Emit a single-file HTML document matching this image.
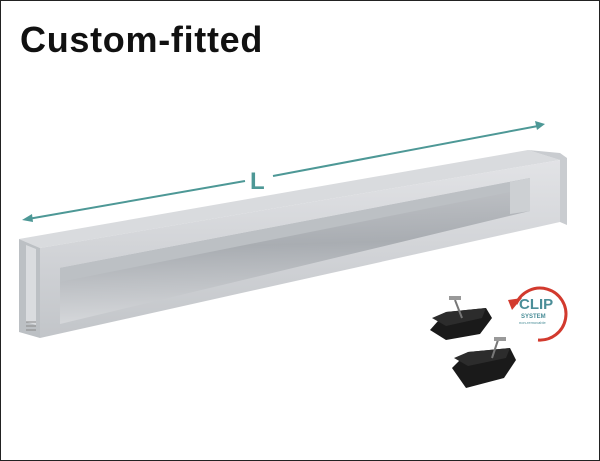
<!DOCTYPE html>
<html><head><style>
html,body{margin:0;padding:0;background:#fff;}
.w{position:relative;width:598px;height:459px;border:1px solid #222;overflow:hidden;background:#fff;}
h1{position:absolute;left:19px;top:18px;margin:0;font:bold 36px "Liberation Sans",sans-serif;color:#111;letter-spacing:0.7px;}
svg{position:absolute;left:-1px;top:-1px;}
</style></head><body><div class="w">
<h1>Custom-fitted</h1>
<svg width="600" height="461" viewBox="0 0 600 461">
<defs>
<linearGradient id="fr" x1="0" y1="0" x2="0" y2="1"><stop offset="0" stop-color="#e2e3e6"/><stop offset="1" stop-color="#c2c5c9"/></linearGradient>
<linearGradient id="in" x1="0" y1="0" x2="0.1" y2="1"><stop offset="0" stop-color="#c6c8cc"/><stop offset="0.5" stop-color="#a9adb2"/><stop offset="1" stop-color="#d6d8db"/></linearGradient>
</defs>
<g stroke="#4d9896" stroke-width="2" fill="#4d9896">
<line x1="28" y1="219" x2="245" y2="181"/>
<line x1="273" y1="176" x2="538" y2="126"/>
<polygon points="22,220 32,214 33,222" stroke="none"/>
<polygon points="545,124 535,121 537,130" stroke="none"/>
</g>
<text x="250" y="189" font-family="Liberation Sans" font-size="24" font-weight="bold" fill="#4d9896">L</text>
<polygon points="19,239 528,150 560,160 40,248" fill="#d9dbde"/>
<polygon points="19,239 40,248 40,338 19,332" fill="#bcc0c4"/>
<polygon points="26,245 36,249 36,325 26,322" fill="#dadcdf"/>
<polygon points="40,248 560,160 560,222 40,338" fill="url(#fr)"/>
<polygon points="560,160 560,222 567,225 567,158 560,153 528,150" fill="#c9ccd0"/>
<polygon points="60,268 530,178 530,211 60,324" fill="url(#in)"/>
<polygon points="60,268 530,178 530,188 60,282" fill="#bcc0c4"/>
<polygon points="510,182 530,178 530,211 510,214" fill="#cdd0d3"/>
<g stroke="#888" stroke-width="1"><line x1="26" y1="322" x2="36" y2="322"/><line x1="26" y1="326" x2="36" y2="326"/><line x1="26" y1="330" x2="36" y2="330"/></g>
<g fill="#1a1a1a">
<polygon points="430,330 446,312 486,308 492,318 480,334 446,340"/>
<polygon points="432,318 446,312 486,308 482,318 446,326" fill="#2c2c2c"/>
<line x1="455" y1="300" x2="462" y2="318" stroke="#777" stroke-width="2"/>
<rect x="449" y="296" width="12" height="4" fill="#999"/>
<polygon points="452,368 468,352 510,348 516,360 504,378 466,388"/>
<polygon points="454,358 468,352 510,348 506,358 468,366" fill="#2c2c2c"/>
<line x1="498" y1="340" x2="492" y2="358" stroke="#777" stroke-width="2"/>
<rect x="494" y="337" width="12" height="4" fill="#999"/>
</g>
<path d="M516,304 A26,26 0 1 1 538,340" fill="none" stroke="#d23a2e" stroke-width="3"/>
<polygon points="508,300 522,298 512,310" fill="#d23a2e"/>
<text x="519" y="309" font-family="Liberation Sans" font-size="15" font-weight="bold" fill="#4b8e98">CLIP</text>
<text x="521" y="318" font-family="Liberation Sans" font-size="6" font-weight="bold" fill="#4b8e98">SYSTEM</text>
<text x="519" y="324" font-family="Liberation Sans" font-size="4" fill="#4b8e98">non-removable</text>
</svg>
</div></body></html>
